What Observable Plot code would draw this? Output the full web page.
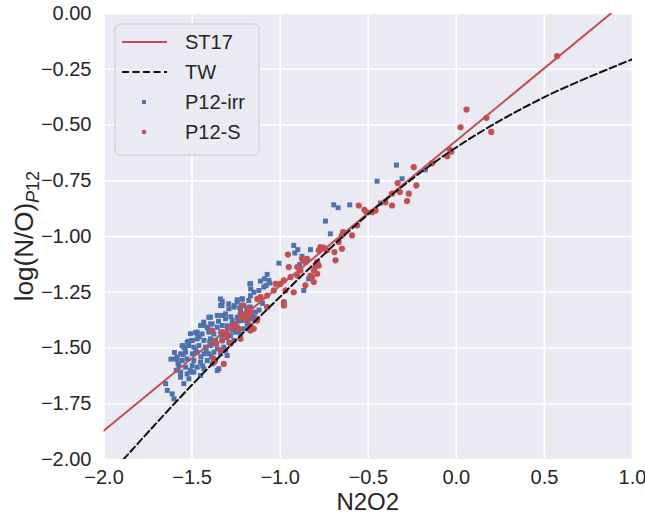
<!DOCTYPE html>
<html><head><meta charset="utf-8">
<script src="https://cdn.jsdelivr.net/npm/d3@7"></script>
<script src="https://cdn.jsdelivr.net/npm/@observablehq/plot@0.6"></script>
<style>body{margin:0;background:#fff;} #chart{width:645px;height:516px;}</style>
</head><body><div id="chart"></div>
<script>
const xTicks = [-2, -1.5, -1, -0.5, 0, 0.5, 1];
const yTicks = [-2, -1.75, -1.5, -1.25, -1, -0.75, -0.5, -0.25, 0];
const seriesNames = ["ST17", "TW", "P12-irr", "P12-S"];
const xLabel = "N2O2";
const yLabelMain = "log(N/O)";
const yLabelSubItalic = "P";
const yLabelSubRoman = "12";

// ST17 line (endpoints)
const st17 = [[-2, -1.87], [0.877, 0]];
// TW dashed curve
const tw = [[-1.89, -2.0], [-1.5, -1.665], [-1.0, -1.27], [-0.5, -0.90], [0, -0.60], [0.5, -0.375], [1.0, -0.205]];

const p12irr = [
[-1.338,-1.309],[-1.329,-1.291],[-1.291,-1.324],[-1.244,-1.294],[-1.206,-1.309],[-1.178,-1.317],[-1.225,-1.332],[-1.197,-1.354],[-1.168,-1.354],
[-1.395,-1.362],[-1.357,-1.354],[-1.310,-1.369],[-1.272,-1.377],[-1.244,-1.362],[-1.215,-1.377],[-1.187,-1.392],
[-1.433,-1.399],[-1.395,-1.392],[-1.357,-1.407],[-1.329,-1.399],[-1.301,-1.414],[-1.272,-1.399],[-1.244,-1.407],[-1.206,-1.414],[-1.178,-1.414],
[-1.471,-1.429],[-1.443,-1.437],[-1.405,-1.429],[-1.376,-1.437],[-1.338,-1.429],[-1.310,-1.437],[-1.282,-1.444],[-1.253,-1.429],[-1.225,-1.437],
[-1.499,-1.466],[-1.471,-1.459],[-1.433,-1.466],[-1.395,-1.459],[-1.367,-1.466],[-1.329,-1.466],[-1.291,-1.474],[-1.263,-1.466],
[-1.547,-1.496],[-1.518,-1.489],[-1.490,-1.496],[-1.461,-1.489],[-1.424,-1.496],[-1.395,-1.489],[-1.357,-1.504],[-1.320,-1.496],
[-1.565,-1.526],[-1.537,-1.519],[-1.499,-1.526],[-1.471,-1.519],[-1.433,-1.526],[-1.405,-1.526],[-1.376,-1.519],[-1.338,-1.526],[-1.301,-1.534],
[-1.594,-1.549],[-1.556,-1.556],[-1.528,-1.549],[-1.490,-1.556],[-1.452,-1.564],[-1.414,-1.556],[-1.386,-1.571],[-1.357,-1.601],
[-1.575,-1.579],[-1.537,-1.586],[-1.499,-1.579],[-1.471,-1.586],[-1.433,-1.594],[-1.452,-1.623],
[-1.565,-1.608],[-1.528,-1.616],[-1.490,-1.608],[-1.566,-1.623],[-1.547,-1.660],
[-1.650,-1.660],[-1.641,-1.690],[-1.613,-1.706],[-1.603,-1.728],
[-1.52,-1.47],[-1.48,-1.51],[-1.45,-1.54],[-1.42,-1.51],[-1.39,-1.54],[-1.36,-1.48],[-1.33,-1.45],[-1.30,-1.40],[-1.27,-1.42],[-1.24,-1.38],
[-1.21,-1.35],[-1.35,-1.38],[-1.41,-1.41],[-1.46,-1.45],[-1.55,-1.53],[-1.58,-1.57],[-1.51,-1.60],[-1.44,-1.58],[-1.40,-1.47],[-1.31,-1.51],
[-1.28,-1.36],[-1.26,-1.31],[-1.23,-1.32],[-1.19,-1.33],[-1.16,-1.37],[-1.48,-1.43],[-1.54,-1.50],[-1.60,-1.52],[-1.62,-1.55],[-1.59,-1.60],
[-1.172,-1.212],[-1.167,-1.235],[-1.339,-1.280],[-1.330,-1.310],[-1.216,-1.280],[-1.292,-1.302],[-1.263,-1.317],[-1.310,-1.347],[-1.330,-1.354],
[-1.405,-1.362],[-1.434,-1.384],[-1.452,-1.399],[-1.386,-1.392],[-1.414,-1.407],[-1.509,-1.436],[-1.471,-1.436],[-1.556,-1.489],[-1.528,-1.474],
[-1.500,-1.466],[-1.585,-1.541],[-1.566,-1.631],[-1.518,-1.638],[-1.500,-1.608],[-1.348,-1.593],[-1.367,-1.556],[-1.585,-1.549],
[-1.074,-1.170],[-1.064,-1.197],[-1.168,-1.212],[-1.093,-1.227],[-1.121,-1.242],[-1.149,-1.250],[-1.111,-1.272],[-1.168,-1.265],[-1.178,-1.287],
[-1.215,-1.280],[-1.168,-1.317],[-1.140,-1.339],[-1.149,-1.362],[-1.007,-1.120],
[-1.080,-1.220],[-1.100,-1.300],[-1.120,-1.330],[-1.090,-1.190],[-1.112,-1.200],[-1.059,-1.209],[-1.244,-1.284],
[-0.340,-0.680],[-0.450,-0.752],[-0.308,-0.741],[-0.176,-0.701],[-0.696,-0.858],[-0.671,-0.871],[-0.605,-0.858],[-0.743,-0.931],[-0.715,-0.988],[-0.431,-0.850],
[-0.923,-1.040],[-0.900,-1.059],[-0.917,-1.074],[-0.828,-1.059],[-0.876,-1.089],[-0.866,-1.107],[-0.889,-1.125],[-0.838,-1.190],[-0.866,-1.242]
];

const p12s = [
[-1.225,-1.347],[-1.178,-1.324],[-1.386,-1.422],[-1.329,-1.429],[-1.301,-1.437],[-1.263,-1.399],[-1.225,-1.459],[-1.367,-1.481],[-1.338,-1.511],
[-1.376,-1.564],[-1.320,-1.571],[-1.234,-1.414],
[-1.329,-1.466],[-1.301,-1.436],[-1.216,-1.309],[-1.197,-1.347],[-1.169,-1.340],[-1.216,-1.362],[-1.282,-1.407],[-1.254,-1.399],
[-1.169,-1.422],[-1.131,-1.377],[-1.282,-1.481],[-1.301,-1.451],[-1.377,-1.549],
[-0.956,-1.081],[-0.951,-1.137],[-0.903,-1.137],[-0.903,-1.175],[-0.941,-1.182],[-0.979,-1.197],[-0.998,-1.212],[-1.026,-1.212],[-1.036,-1.242],
[-1.074,-1.265],[-1.111,-1.272],[-1.130,-1.280],[-0.979,-1.294],[-0.979,-1.309],[-1.074,-1.317],[-1.130,-1.369],[-1.168,-1.347],
[-1.168,-1.399],[-1.150,-1.414],[-1.187,-1.374],[-0.970,-1.242],[-0.923,-1.250],
[-0.242,-0.689],[-0.138,-0.671],[-0.333,-0.760],[-0.321,-0.801],[-0.227,-0.771],[-0.270,-0.808],[-0.365,-0.808],[-0.280,-0.841],[-0.365,-0.861],
[-0.403,-0.846],[-0.459,-0.883],[-0.478,-0.891],[-0.510,-0.891],[-0.522,-0.880],[-0.554,-0.861],[-0.563,-0.950],[-0.592,-0.995],[-0.643,-0.980],
[-0.649,-0.995],[-0.668,-1.025],[-0.649,-1.055],[-0.692,-1.070],[-0.686,-1.107],[-0.734,-1.062],[-0.772,-1.047],[-0.753,-1.050],[-0.781,-1.062],
[-0.847,-1.100],[-0.790,-1.115],[-0.781,-1.130],[-0.800,-1.137],[-0.809,-1.152],[-0.790,-1.167],[-0.819,-1.182],[-0.828,-1.175],[-0.876,-1.100],
[-0.857,-1.115],[-0.885,-1.152],[-0.857,-1.219],[-0.809,-1.204],
[0.572,-0.191],[0.058,-0.431],[0.171,-0.468],[0.024,-0.510],[0.198,-0.531],[-0.037,-0.610],[-0.029,-0.620],[-0.052,-0.640]
];

const W = 645, H = 516, mL = 103.5, mR = 13, mT = 13, mB = 57;
const blue = "#4C72B0", red = "#C44E52", ink = "#262626";
const font = "'Liberation Sans', Arial, sans-serif";
const minus = s => s.replace("-", "\u2212");

const chart = Plot.plot({
  width: W, height: H,
  marginLeft: mL, marginRight: mR, marginTop: mT, marginBottom: mB,
  style: {fontFamily: font, fontSize: "20px", color: ink, background: "white"},
  x: {domain: [-2, 1]},
  y: {domain: [-2, 0]},
  marks: [
    Plot.frame({fill: "#EAEAF2", stroke: null}),
    Plot.gridX(xTicks, {stroke: "white", strokeOpacity: 1, strokeWidth: 1.6}),
    Plot.gridY(yTicks, {stroke: "white", strokeOpacity: 1, strokeWidth: 1.6}),
    Plot.axisX(xTicks, {tickSize: 0, tickPadding: 10, tickFormat: d => minus(d.toFixed(1)), label: null, fontSize: 20, fill: ink}),
    Plot.axisY(yTicks, {tickSize: 0, tickPadding: 12.5, tickFormat: d => minus(d.toFixed(2)), label: null, fontSize: 20, fill: ink}),
    Plot.dot(p12irr, {x: d => d[0], y: d => d[1], symbol: "square", r: 2.8, fill: blue, stroke: null}),
    Plot.dot(p12s, {x: d => d[0], y: d => d[1], r: 3.1, fill: red, stroke: null}),
    Plot.line(st17, {x: d => d[0], y: d => d[1], stroke: red, strokeWidth: 2, clip: true}),
    Plot.line(tw, {x: d => d[0], y: d => d[1], stroke: "#111", strokeWidth: 2, strokeDasharray: "7,3.5", curve: "catmull-rom", clip: true})
  ]
});
document.getElementById("chart").appendChild(chart);

const svg = d3.select(chart);
svg.append("text")
  .attr("x", (mL + W - mR) / 2).attr("y", 510)
  .attr("text-anchor", "middle").attr("font-size", 24).attr("font-family", font).attr("fill", ink)
  .text(xLabel);
const yl = svg.append("text")
  .attr("transform", `translate(33,${(mT + H - mB) / 2}) rotate(-90)`)
  .attr("text-anchor", "middle").attr("font-size", 26).attr("font-family", font).attr("fill", ink);
yl.append("tspan").text(yLabelMain);
yl.append("tspan").attr("font-size", 18).attr("font-style", "italic").attr("dy", 6).text(yLabelSubItalic);
yl.append("tspan").attr("font-size", 18).text(yLabelSubRoman);

// legend
const lg = svg.append("g").attr("font-family", font).attr("text-anchor", "start");
lg.append("rect").attr("x", 115).attr("y", 24).attr("width", 144).attr("height", 131).attr("rx", 5)
  .attr("fill", "#EAEAF2").attr("fill-opacity", 0.8).attr("stroke", "#cccccc").attr("stroke-width", 1);
const rowY = i => 42 + i * 30;
lg.append("line").attr("x1", 122).attr("x2", 167).attr("y1", rowY(0)).attr("y2", rowY(0)).attr("stroke", red).attr("stroke-width", 2);
lg.append("line").attr("x1", 122).attr("x2", 167).attr("y1", rowY(1)).attr("y2", rowY(1)).attr("stroke", "#111").attr("stroke-width", 2).attr("stroke-dasharray", "7,3.5");
lg.append("rect").attr("x", 142).attr("y", rowY(2) - 2).attr("width", 4).attr("height", 4).attr("fill", blue);
lg.append("circle").attr("cx", 144).attr("cy", rowY(3)).attr("r", 2.3).attr("fill", red);
seriesNames.forEach((n, i) => {
  lg.append("text").attr("x", 185).attr("y", rowY(i)).attr("dy", "0.36em").attr("text-anchor", "start")
    .attr("font-size", 20).attr("fill", ink).text(n);
});
</script>
</body></html>
